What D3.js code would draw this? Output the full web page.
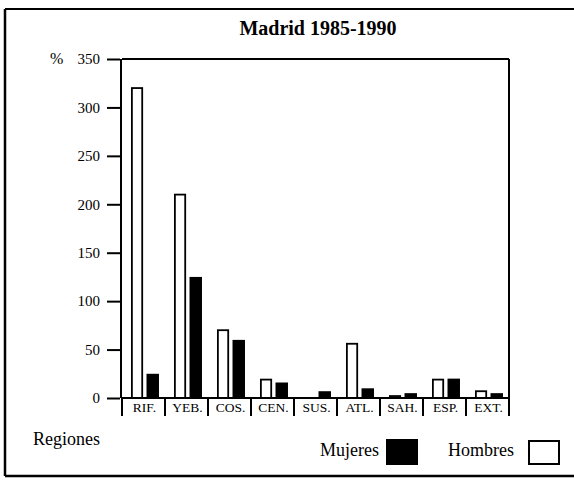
<!DOCTYPE html>
<html>
<head>
<meta charset="utf-8">
<script src="https://cdn.jsdelivr.net/npm/d3@7"></script>
<style>
  html, body { margin: 0; padding: 0; background: #fff; }
  svg { display: block; font-family: "Liberation Serif", "Times New Roman", serif; }
</style>
</head>
<body>
<svg id="chart" width="574" height="481"></svg>
<script>
const categories = ["RIF.", "YEB.", "COS.", "CEN.", "SUS.", "ATL.", "SAH.", "ESP.", "EXT."];
const hombres = [320, 210, 70, 19, 0, 56, 2, 19, 7];
const mujeres = [25, 125, 60, 16, 7, 10, 5, 20, 5];
const yTicks = [0, 50, 100, 150, 200, 250, 300, 350];

const svg = d3.select("#chart");
const W = 574, H = 481;
const plot = { left: 122, right: 509, top: 59, bottom: 398 };

const x = d3.scaleBand().domain(categories).range([plot.left, plot.right]).padding(0);
const y = d3.scaleLinear().domain([0, 350]).range([plot.bottom, plot.top]);
const bw = x.bandwidth();

// outer frame (cropped on the right)
svg.append("line").attr("x1", 5).attr("x2", W).attr("y1", 9).attr("y2", 9)
  .attr("stroke", "#000").attr("stroke-width", 2);
svg.append("line").attr("x1", 5).attr("x2", W).attr("y1", 476).attr("y2", 476)
  .attr("stroke", "#000").attr("stroke-width", 2.5);
svg.append("line").attr("x1", 5).attr("x2", 5).attr("y1", 9).attr("y2", 476)
  .attr("stroke", "#000").attr("stroke-width", 2.5);

// title
svg.append("text").attr("x", 318).attr("y", 35).attr("text-anchor", "middle")
  .attr("font-size", 20).attr("font-weight", "bold").text("Madrid 1985-1990");

// plot frame
svg.append("line").attr("x1", plot.left).attr("x2", plot.right).attr("y1", plot.top).attr("y2", plot.top)
  .attr("stroke", "#000").attr("stroke-width", 2);
svg.append("line").attr("x1", plot.right).attr("x2", plot.right).attr("y1", plot.top).attr("y2", plot.bottom)
  .attr("stroke", "#000").attr("stroke-width", 2);

// y axis
const yAxis = d3.axisLeft(y).tickValues(yTicks).tickSize(15).tickPadding(6).tickFormat(d3.format("d"));
const gy = svg.append("g").attr("transform", `translate(${plot.left - 1},0)`).call(yAxis);
gy.select(".domain").attr("stroke-width", 2).attr("d", `M0,${plot.top}V${plot.bottom}`);
gy.selectAll(".tick line").attr("stroke-width", 2).attr("x2", -14).attr("x1", -1);
gy.selectAll(".tick text").attr("font-size", 15).attr("font-family", "Liberation Serif, serif").attr("fill", "#000");

svg.append("text").attr("x", 50).attr("y", 64).attr("font-size", 16).text("%");

// bars: hombres (white)
svg.append("g").selectAll("rect").data(categories).join("rect")
  .attr("x", (d) => x(d) + 0.23 * bw)
  .attr("width", 0.24 * bw)
  .attr("y", (d, i) => y(hombres[i]))
  .attr("height", (d, i) => y(0) - y(hombres[i]))
  .attr("fill", "#fff").attr("stroke", "#000").attr("stroke-width", 1.8);

// bars: mujeres (black)
svg.append("g").selectAll("rect").data(categories).join("rect")
  .attr("x", (d) => x(d) + 0.57 * bw)
  .attr("width", 0.29 * bw)
  .attr("y", (d, i) => y(mujeres[i]))
  .attr("height", (d, i) => y(0) - y(mujeres[i]))
  .attr("fill", "#000");

// baseline
svg.append("line").attr("x1", plot.left).attr("x2", plot.right).attr("y1", y(0)).attr("y2", y(0))
  .attr("stroke", "#000").attr("stroke-width", 2);

// category separators and labels
const seps = categories.map((d) => x(d)).concat([plot.right]);
svg.append("g").selectAll("line").data(seps).join("line")
  .attr("x1", (d) => d).attr("x2", (d) => d)
  .attr("y1", y(0)).attr("y2", 416)
  .attr("stroke", "#000").attr("stroke-width", 2);
svg.append("g").selectAll("text").data(categories).join("text")
  .attr("x", (d) => x(d) + bw / 2 + 1).attr("y", 412)
  .attr("text-anchor", "middle").attr("font-size", 13.5).text((d) => d);

// axis title
svg.append("text").attr("x", 33).attr("y", 445).attr("font-size", 18).text("Regiones");

// legend
svg.append("text").attr("x", 379).attr("y", 456).attr("text-anchor", "end").attr("font-size", 18).text("Mujeres");
svg.append("rect").attr("x", 386).attr("y", 439).attr("width", 32).attr("height", 26).attr("fill", "#000");
svg.append("text").attr("x", 514).attr("y", 456).attr("text-anchor", "end").attr("font-size", 18).text("Hombres");
svg.append("rect").attr("x", 529).attr("y", 441).attr("width", 30).attr("height", 23)
  .attr("fill", "#fff").attr("stroke", "#000").attr("stroke-width", 2);
</script>
</body>
</html>
